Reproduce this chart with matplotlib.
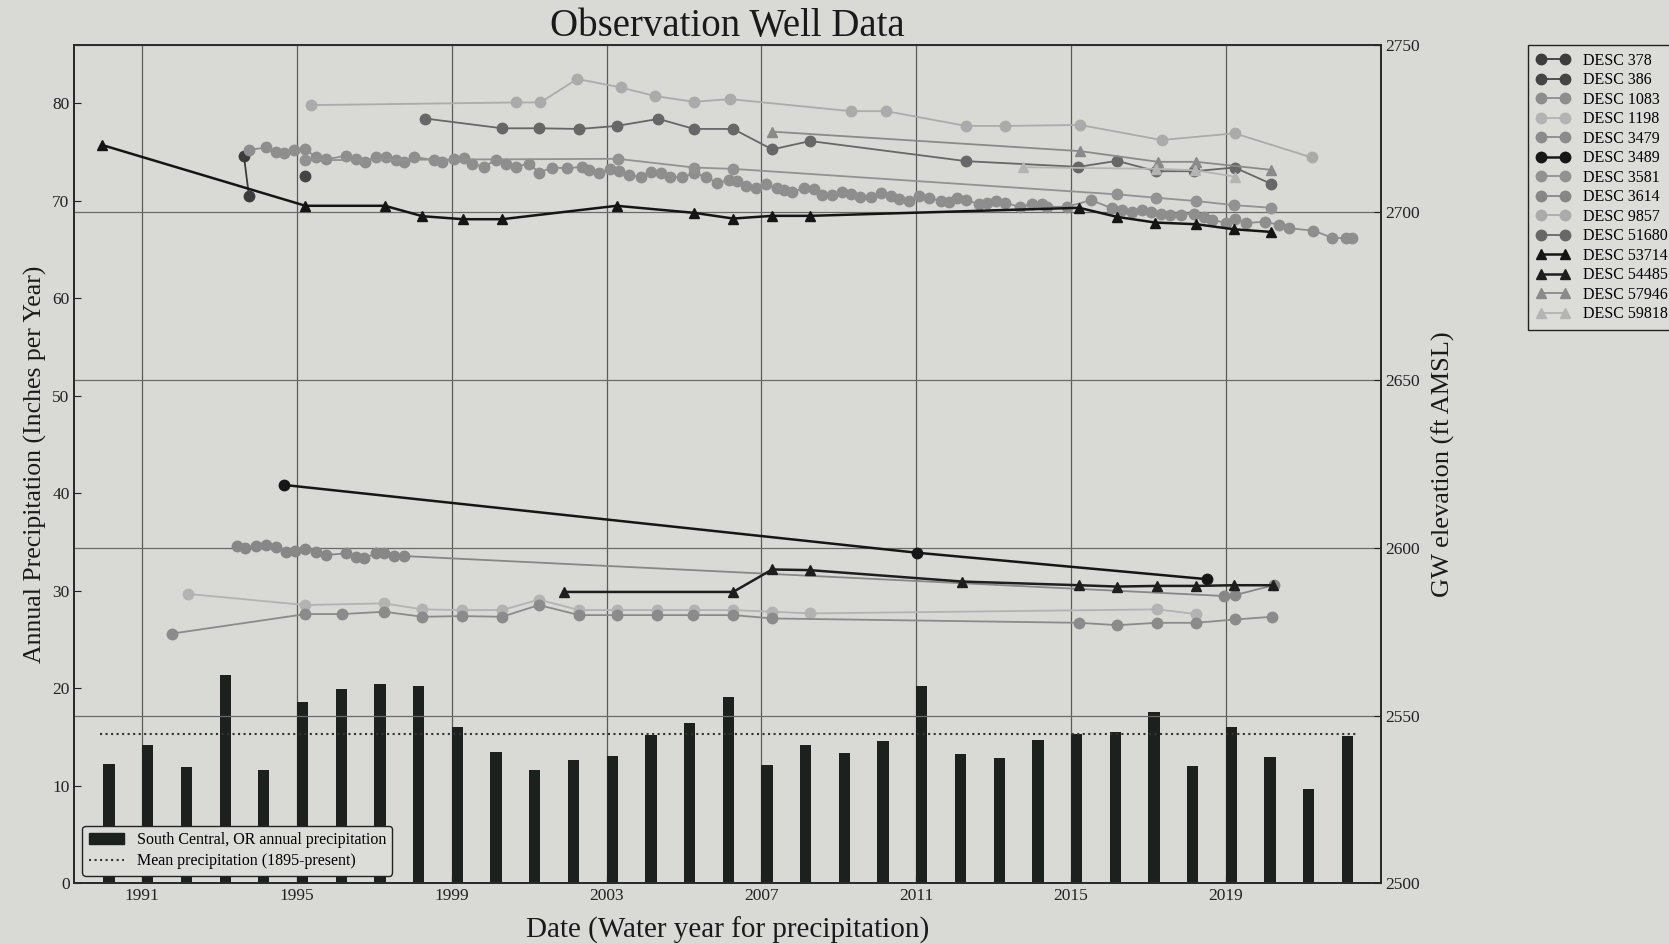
import matplotlib.pyplot as plt
from matplotlib.patches import Patch
from matplotlib.lines import Line2D

plt.rcParams['font.family'] = ['Liberation Serif', 'DejaVu Serif']

# South Central OR annual precipitation (water year), inches
precip_years = list(range(1990, 2023))
precip_in = [12.3, 14.2, 11.9, 21.4, 11.6, 18.6, 19.9, 20.5, 20.3, 16.0,
             13.5, 11.6, 12.7, 13.1, 15.2, 16.5, 19.1, 12.2, 14.2, 13.4,
             14.6, 20.2, 13.3, 12.9, 14.7, 15.3, 15.5, 17.6, 12.0, 16.0,
             13.0, 9.7, 15.1]
mean_precip = 15.3

# well levels, decimal year / ft AMSL
desc378_t = [1993.63, 1993.76]
desc378_z = [2716.8, 2704.9]

desc386_t = [1995.22]
desc386_z = [2710.9]

desc1083_t = [1993.76, 1994.19, 1994.45, 1994.66, 1994.92, 1995.22, 1995.48, 1995.74,
              1996.26, 1996.52, 1996.77, 1997.03, 1997.29, 1997.55, 1997.76, 1998.02,
              1998.54, 1998.75, 1999.06, 1999.31, 1999.53, 1999.83, 2000.13, 2000.39,
              2000.65, 2001.00, 2001.25, 2001.60, 2001.98, 2002.37, 2002.54, 2002.80,
              2003.10, 2003.32, 2003.58, 2003.88, 2004.14, 2004.40, 2004.65, 2004.96,
              2005.26, 2005.56, 2005.86, 2006.16, 2006.38, 2006.59, 2006.85, 2007.11,
              2007.41, 2007.58, 2007.80, 2008.10, 2008.36, 2008.57, 2008.83, 2009.09,
              2009.31, 2009.56, 2009.82, 2010.08, 2010.34, 2010.55, 2010.81, 2011.07,
              2011.33, 2011.63, 2011.85, 2012.06, 2012.29, 2012.62, 2012.84, 2013.05,
              2013.29, 2013.67, 2014.00, 2014.26, 2014.39, 2014.90, 2015.52, 2016.07,
              2016.33, 2016.58, 2016.84, 2017.06, 2017.32, 2017.57, 2017.83, 2018.18,
              2018.44, 2018.65, 2019.00, 2019.24, 2019.51, 2020.01, 2020.37, 2020.63,
              2021.26, 2021.75, 2022.10, 2022.27]
desc1083_z = [2718.6, 2719.4, 2718.1, 2717.6, 2718.6, 2718.8, 2716.6, 2715.8,
              2716.9, 2715.8, 2715.1, 2716.6, 2716.4, 2715.6, 2715.1, 2716.6,
              2715.6, 2715.1, 2715.9, 2716.1, 2714.6, 2713.6, 2715.6, 2714.6,
              2713.6, 2714.6, 2711.9, 2713.4, 2713.2, 2713.6, 2712.7, 2711.7,
              2713.1, 2712.4, 2711.2, 2710.5, 2712.2, 2711.7, 2710.7, 2710.5,
              2711.7, 2710.7, 2708.7, 2709.7, 2709.5, 2707.9, 2707.4, 2708.4,
              2707.2, 2706.7, 2706.0, 2707.4, 2706.9, 2705.2, 2705.2, 2706.2,
              2705.4, 2704.7, 2704.7, 2705.7, 2704.9, 2703.9, 2703.4, 2705.0,
              2704.4, 2703.5, 2703.2, 2704.2, 2703.7, 2702.5, 2702.7, 2703.5,
              2702.9, 2701.7, 2702.5, 2702.5, 2701.7, 2701.7, 2703.7, 2701.2,
              2700.7, 2700.2, 2700.7, 2700.2, 2699.7, 2699.2, 2699.4, 2699.7,
              2698.7, 2697.7, 2697.0, 2698.2, 2696.8, 2697.3, 2696.3, 2695.3,
              2694.6, 2692.5, 2692.3, 2692.3]

desc1198_t = [1992.19, 1995.22, 1997.25, 1998.24, 1999.27, 2000.30, 2001.25, 2002.29,
              2003.26, 2004.31, 2005.25, 2006.27, 2007.28, 2008.26, 2017.23, 2018.24]
desc1198_z = [2586.3, 2583.0, 2583.5, 2581.7, 2581.5, 2581.5, 2584.6, 2581.5,
              2581.5, 2581.5, 2581.5, 2581.5, 2581.0, 2580.5, 2581.7, 2580.3]

desc3479_t = [1991.78, 1995.22, 1996.17, 1997.25, 1998.24, 1999.27, 2000.30, 2001.25,
              2002.29, 2003.26, 2004.31, 2005.24, 2006.27, 2007.28, 2015.21, 2016.20,
              2017.23, 2018.24, 2019.24, 2020.20]
desc3479_z = [2574.5, 2580.3, 2580.3, 2581.0, 2579.5, 2579.7, 2579.5, 2583.0,
              2580.0, 2580.0, 2580.0, 2580.0, 2580.0, 2579.0, 2577.7, 2577.0,
              2577.7, 2577.7, 2578.7, 2579.5]

desc3489_t = [1994.66, 2011.01, 2018.52]
desc3489_z = [2618.8, 2598.6, 2590.7]

desc3581_t = [1995.22, 2003.29, 2005.26, 2006.27, 2016.19, 2017.20, 2018.24, 2019.21, 2020.18]
desc3581_z = [2715.6, 2716.0, 2713.4, 2713.0, 2705.4, 2704.4, 2703.4, 2702.2, 2701.4]

desc3614_t = [1993.46, 1993.67, 1993.93, 1994.19, 1994.45, 1994.71, 1994.96, 1995.22,
              1995.48, 1995.74, 1996.26, 1996.52, 1996.73, 1997.03, 1997.25, 1997.51,
              1997.76, 2018.95, 2019.25, 2020.24]
desc3614_z = [2600.6, 2600.1, 2600.6, 2600.9, 2600.2, 2598.9, 2599.1, 2599.7,
              2598.9, 2597.9, 2598.4, 2597.4, 2596.9, 2598.4, 2598.4, 2597.6,
              2597.6, 2585.7, 2586.0, 2588.9]

desc9857_t = [1995.35, 2000.65, 2001.29, 2002.24, 2003.36, 2004.25, 2005.26, 2006.19,
              2009.31, 2010.23, 2012.29, 2013.29, 2015.23, 2017.34, 2019.23, 2021.22]
desc9857_z = [2732.0, 2732.8, 2732.8, 2739.8, 2737.3, 2734.7, 2733.0, 2733.8,
              2730.2, 2730.2, 2725.8, 2725.8, 2726.1, 2721.6, 2723.6, 2716.4]

desc51680_t = [1998.32, 2000.30, 2001.25, 2002.30, 2003.26, 2004.34, 2005.26, 2006.27,
               2007.28, 2008.26, 2012.29, 2015.19, 2016.19, 2017.20, 2018.18, 2019.23,
               2020.18]
desc51680_z = [2728.0, 2725.1, 2725.1, 2724.9, 2725.8, 2727.9, 2724.9, 2724.9,
               2718.8, 2721.3, 2715.3, 2713.6, 2715.4, 2712.3, 2712.3, 2713.4,
               2708.5]

desc53714_t = [1989.97, 1995.22, 1997.27, 1998.24, 1999.29, 2000.30, 2003.26, 2005.26,
               2006.27, 2007.28, 2008.26, 2015.21, 2016.19, 2017.18, 2018.24, 2019.21,
               2020.18]
desc53714_z = [2720.1, 2702.0, 2702.0, 2698.9, 2698.0, 2698.0, 2702.0, 2699.9,
               2698.2, 2699.0, 2699.0, 2701.4, 2698.7, 2697.0, 2696.5, 2695.0,
               2694.2]

desc54485_t = [2001.90, 2006.27, 2007.28, 2008.25, 2012.19, 2015.21, 2016.20, 2017.23,
               2018.24, 2019.21, 2020.22]
desc54485_z = [2586.9, 2586.9, 2593.6, 2593.4, 2590.0, 2588.9, 2588.5, 2588.7,
               2588.7, 2588.9, 2588.9]

desc57946_t = [2007.28, 2015.23, 2017.25, 2018.24, 2020.18]
desc57946_z = [2724.1, 2718.3, 2715.1, 2715.1, 2712.7]

desc59818_t = [2013.76, 2017.20, 2018.20, 2019.23]
desc59818_z = [2713.5, 2713.0, 2712.6, 2710.7]

wells = [
    ('DESC 378', desc378_t, desc378_z, '#3c3c3c', 'o'),
    ('DESC 386', desc386_t, desc386_z, '#454545', 'o'),
    ('DESC 1083', desc1083_t, desc1083_z, '#8e8e8e', 'o'),
    ('DESC 1198', desc1198_t, desc1198_z, '#b3b3b3', 'o'),
    ('DESC 3479', desc3479_t, desc3479_z, '#8b8b8b', 'o'),
    ('DESC 3489', desc3489_t, desc3489_z, '#161616', 'o'),
    ('DESC 3581', desc3581_t, desc3581_z, '#929292', 'o'),
    ('DESC 3614', desc3614_t, desc3614_z, '#878787', 'o'),
    ('DESC 9857', desc9857_t, desc9857_z, '#ababab', 'o'),
    ('DESC 51680', desc51680_t, desc51680_z, '#676767', 'o'),
    ('DESC 53714', desc53714_t, desc53714_z, '#151515', '^'),
    ('DESC 54485', desc54485_t, desc54485_z, '#1e1e1e', '^'),
    ('DESC 57946', desc57946_t, desc57946_z, '#8a8a8a', '^'),
    ('DESC 59818', desc59818_t, desc59818_z, '#b4b4b4', '^'),
]

bg = '#d9d9d6'
fig = plt.figure(figsize=(16.69, 9.44), dpi=100, facecolor=bg)
ax = fig.add_axes([0.0446, 0.0641, 0.7826, 0.8885], facecolor=bg)
ax2 = ax.twinx()

bars = ax.bar(precip_years, precip_in, width=0.29, align='edge',
              color='#1d211e', zorder=2)
ax.plot([precip_years[0] - 0.1, precip_years[-1] + 0.4], [mean_precip, mean_precip],
        ls=':', lw=1.5, color='#333333', zorder=3)

handles = []
for name, t, z, c, m in wells:
    dark = c in ('#161616', '#151515', '#1e1e1e')
    ms = 6.5 if m == '^' else 7.5
    ln, = ax2.plot(t, z, marker=m, color=c, mec=c, ms=ms,
                   lw=1.8 if dark else 1.3, zorder=5 if dark else 4, label=name)
    handles.append(ln)

ax.set_xlim(1989.25, 2023.0)
ax.set_ylim(0, 86)
ax2.set_ylim(2500, 2750)
ax.set_xticks(range(1991, 2020, 4))
ax.set_yticks(range(0, 81, 10))
ax2.set_yticks(range(2500, 2751, 50))

ax.xaxis.grid(True, color='#5a5a5a', lw=0.9)
ax2.yaxis.grid(True, color='#6a6a6a', lw=0.9)
ax.set_axisbelow(True)
ax2.set_axisbelow(True)

for a in (ax, ax2):
    a.tick_params(direction='in', labelsize=12.5, colors='#222222', length=5)
    for s in a.spines.values():
        s.set_color('#2a2a2a')
        s.set_linewidth(1.3)

ax.set_title('Observation Well Data', fontsize=28, color='#1a1a1a', pad=1)
ax.set_xlabel('Date (Water year for precipitation)', fontsize=21, color='#1a1a1a',
              labelpad=9)
ax.set_ylabel('Annual Precipitation (Inches per Year)', fontsize=18.5, color='#1a1a1a')
ax2.set_ylabel('GW elevation (ft AMSL)', fontsize=19, color='#1a1a1a', labelpad=8)

leg1 = ax2.legend([Patch(color='#1d211e'), Line2D([], [], ls=':', color='#333333', lw=1.5)],
                  ['South Central, OR annual precipitation', 'Mean precipitation (1895-present)'],
                  loc='lower left', fontsize=11.5, fancybox=True, framealpha=1,
                  facecolor='#dcdcd9', edgecolor='#222222', borderaxespad=0.5,
                  handlelength=2.2, labelspacing=0.3)
leg1.set_zorder(10)

fig.legend(handles, [w[0] for w in wells], loc='upper left',
           bbox_to_anchor=(0.9158, 0.9526), fontsize=11.5, numpoints=2,
           handlelength=2.1, labelspacing=0.22, fancybox=False, framealpha=1,
           facecolor='#dcdcd9', edgecolor='#222222', borderpad=0.5,
           borderaxespad=0)

fig.savefig('out.png', dpi=100, facecolor=bg)
